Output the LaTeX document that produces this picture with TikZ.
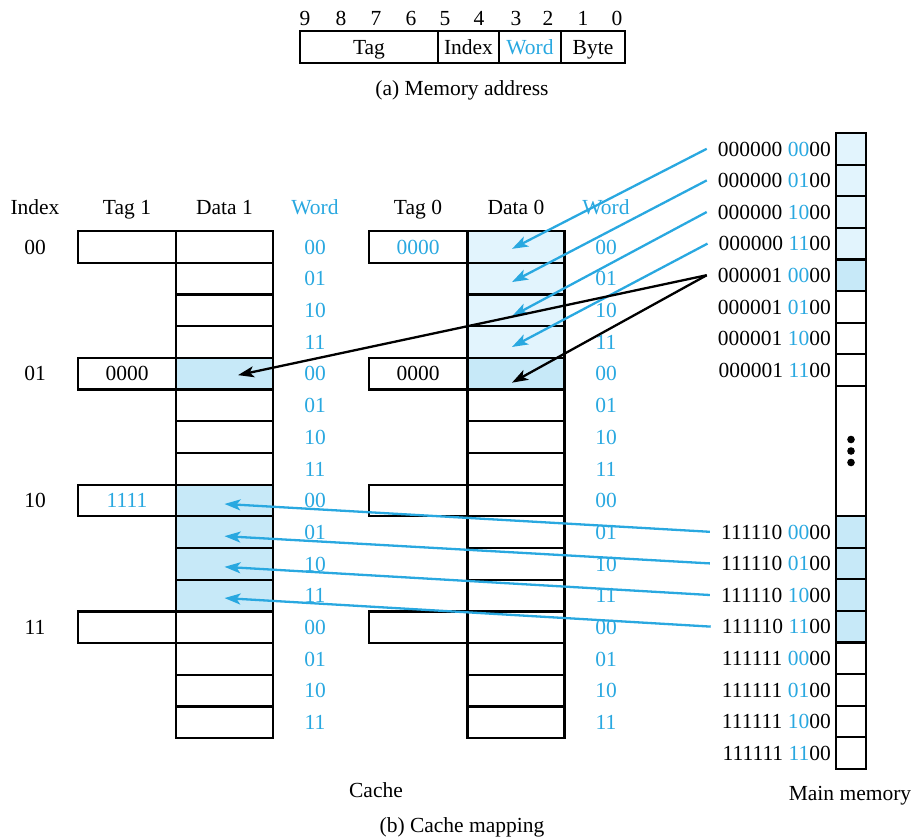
\documentclass[tikz,border=0pt]{standalone}
\usepackage{fontspec}
\setmainfont{Liberation Serif}
\usetikzlibrary{arrows.meta}
\definecolor{cy}{RGB}{41,168,224}
\definecolor{lfill}{RGB}{226,244,253}
\definecolor{mfill}{RGB}{199,233,248}
\newcommand\memlbl[2]{#1 \textcolor{cy}{#2}00}
\tikzset{
  txt/.style={font=\fontsize{21.5}{25}\selectfont, inner sep=0pt, text height=14.5pt, text depth=0pt},
  cell/.style={draw, line width=2.2pt, inner sep=0pt, outer sep=0pt, minimum height=31.7pt, font=\fontsize{21.5}{25}\selectfont, text height=14.5pt, text depth=0pt},
  tagcell/.style={cell, minimum width=98pt},
  datacell/.style={cell, minimum width=97pt},
  memcell/.style={cell, minimum width=30pt, minimum height=31.6pt},
  field/.style={cell, minimum height=32pt},
  memtxt/.style={txt, anchor=east, inner xsep=11pt},
  conn/.style={line width=2.3pt, -{Stealth[length=16pt,width=11pt,inset=4pt]}},
  bconn/.style={conn, cy},
  kconn/.style={conn, black},
}
\begin{document}
\begin{tikzpicture}[x=1pt,y=-1pt]
\useasboundingbox (0,0) rectangle (921,839);
% (a) memory address
\foreach \bb/\xx in {9/305,8/341,7/376,6/411,5/445,4/479,3/516,2/548,1/583,0/617}
  \node[txt] (bit\bb) at (\xx,18) {\bb};
\node[field, minimum width=138pt] (ftag) at (369,47) {Tag};
\node[field, minimum width=61pt] (findex) at (468.5,47) {Index};
\node[field, minimum width=62pt, text=cy] (fword) at (530,47) {Word};
\node[field, minimum width=64pt] (fbyte) at (593,47) {Byte};
\node[txt] (capa) at (462,88) {(a) Memory address};
% headers
\node[txt] (hindex) at (35,207) {Index};
\node[txt] (htag1) at (127,207) {Tag 1};
\node[txt] (hdata1) at (224.5,207) {Data 1};
\node[txt, text=cy] (hword1) at (315,207) {Word};
\node[txt] (htag0) at (418,207) {Tag 0};
\node[txt] (hdata0) at (516,207) {Data 0};
\node[txt, text=cy] (hword0) at (606,207) {Word};
% cache rows
\foreach \rr/\ww/\fa/\fb in {0/00/white/lfill,1/01/white/lfill,2/10/white/lfill,3/11/white/lfill,
  4/00/mfill/mfill,5/01/white/white,6/10/white/white,7/11/white/white,
  8/00/mfill/white,9/01/mfill/white,10/10/mfill/white,11/11/mfill/white,
  12/00/white/white,13/01/white/white,14/10/white/white,15/11/white/white} {
  \pgfmathsetmacro\yy{246.85+31.7*\rr}
  \node[datacell, fill=\fa] (d1-\rr) at (224.5,\yy) {};
  \node[datacell, fill=\fb] (d0-\rr) at (516,\yy) {};
  \node[txt, text=cy] (w1-\rr) at (315,\yy) {\ww};
  \node[txt, text=cy] (w0-\rr) at (606,\yy) {\ww};
}
% index labels and tag cells
\foreach \rr/\ii in {0/00,4/01,8/10,12/11} {
  \pgfmathsetmacro\yy{246.85+31.7*\rr}
  \node[txt] (idx-\rr) at (35,\yy) {\ii};
}
\node[tagcell] (t1-0) at (127,246.85) {};
\node[tagcell] (t1-4) at (127,373.65) {0000};
\node[tagcell, text=cy] (t1-8) at (127,500.45) {1111};
\node[tagcell] (t1-12) at (127,627.25) {};
\node[tagcell, text=cy] (t0-0) at (418,246.85) {0000};
\node[tagcell] (t0-4) at (418,373.65) {0000};
\node[tagcell] (t0-8) at (418,500.45) {};
\node[tagcell] (t0-12) at (418,627.25) {};
% main memory
\foreach \kk/\ff/\tg/\wb in {0/lfill/000000/00,1/lfill/000000/01,2/lfill/000000/10,3/lfill/000000/11,
  4/mfill/000001/00,5/white/000001/01,6/white/000001/10,7/white/000001/11} {
  \pgfmathsetmacro\yy{148.8+31.6*\kk}
  \node[memcell, fill=\ff] (mt\kk) at (851,\yy) {};
  \node[memtxt] (ma\kk) at (842,\yy) {\memlbl{\tg}{\wb}};
}
\node[memcell, minimum height=130pt] (mgap) at (851,451) {};
\foreach \dy in {-11.5,0,11.5}
  \fill ([yshift=\dy pt]mgap.center) circle (3.8pt);
\foreach \kk/\ff/\tg/\wb in {0/mfill/111110/00,1/mfill/111110/01,2/mfill/111110/10,3/mfill/111110/11,
  4/white/111111/00,5/white/111111/01,6/white/111111/10,7/white/111111/11} {
  \pgfmathsetmacro\yy{531.8+31.6*\kk}
  \node[memcell, fill=\ff] (mb\kk) at (851,\yy) {};
  \node[memtxt] (mbl\kk) at (842,\yy) {\memlbl{\tg}{\wb}};
}
% captions
\node[txt] (lcache) at (376,790) {Cache};
\node[txt] (lmain) at (850,793) {Main memory};
\node[txt] (capb) at (462,825) {(b) Cache mapping};
% connectors
\draw[bconn] (ma0.west) -- ([xshift=-4pt,yshift=-2pt]d0-0.center);
\draw[bconn] (ma1.west) -- ([xshift=-4pt,yshift=-3.5pt]d0-1.center);
\draw[bconn] (ma2.west) -- ([xshift=-4pt,yshift=-6pt]d0-2.center);
\draw[bconn] (ma3.west) -- ([xshift=-4pt,yshift=-5pt]d0-3.center);
\draw[kconn] (ma4.west) -- ([xshift=-4pt,yshift=-9pt]d0-4.center);
\draw[kconn] (ma4.west) -- ([xshift=13.5pt,yshift=-1.5pt]d1-4.center);
\draw[bconn] (mbl0.west) -- ([yshift=-3.5pt]d1-8.center);
\draw[bconn] (mbl1.west) -- ([yshift=-4pt]d1-9.center);
\draw[bconn] (mbl2.west) -- ([yshift=-3pt]d1-10.center);
\draw[bconn] (mbl3.west) -- ([yshift=-2.5pt]d1-11.center);
\end{tikzpicture}
\end{document}
